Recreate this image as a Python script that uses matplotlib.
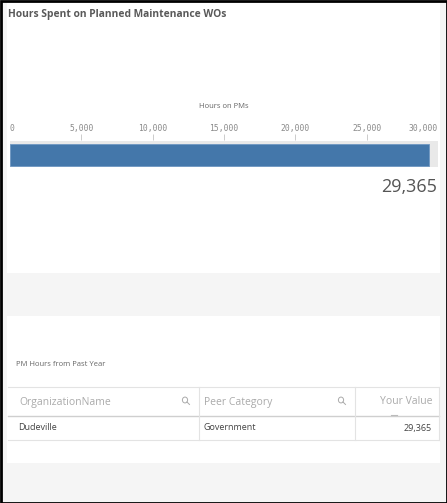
import matplotlib.pyplot as plt
from matplotlib.patches import Rectangle, Circle
from matplotlib.lines import Line2D

title = 'Hours Spent on Planned Maintenance WOs'
axis_title = 'Hours on PMs'
measure = ['Hours on PMs']
hours = [29365]
ticks = [0, 5000, 10000, 15000, 20000, 25000, 30000]

table_title = 'PM Hours from Past Year'
columns = ['OrganizationName', 'Peer Category', 'Your Value']
org_names = ['Dudeville']
peer_cats = ['Government']
your_values = [29365]

W, H = 447, 503
fig = plt.figure(figsize=(W / 100, H / 100), dpi=100)
fig.patch.set_facecolor('#f5f5f5')


def fx(px):
    return px / W


def fy(py):
    return 1 - py / H


def panel(x0, y0, x1, y1, color='white'):
    fig.patches.append(Rectangle((fx(x0), fy(y1)), fx(x1) - fx(x0), fy(y0) - fy(y1),
                                 transform=fig.transFigure, facecolor=color,
                                 edgecolor='none', zorder=-10))


def hline(x0, x1, y, color='#e3e3e3', lw=0.8):
    fig.lines.append(Line2D([fx(x0), fx(x1)], [fy(y), fy(y)], transform=fig.transFigure,
                            color=color, lw=lw))


def vline(x, y0, y1, color='#e3e3e3', lw=0.8):
    fig.lines.append(Line2D([fx(x), fx(x)], [fy(y0), fy(y1)], transform=fig.transFigure,
                            color=color, lw=lw))


def search_icon(x, y):
    fig.patches.append(Circle((fx(x), fy(y)), 2.6 / W, transform=fig.transFigure,
                              facecolor='none', edgecolor='#aaaaaa', lw=0.7))
    fig.lines.append(Line2D([fx(x + 2), fx(x + 4.5)], [fy(y + 2), fy(y + 4.5)],
                            transform=fig.transFigure, color='#aaaaaa', lw=0.7))


# white panels
panel(7, 2, 440, 273)
panel(7, 316, 440, 463)

fig.text(fx(8), fy(15), title, fontsize=7.4, fontweight='bold', color='#595959',
         family='Open Sans', va='center', ha='left')

# bar chart (grey track slightly taller than the bar)
ax = fig.add_axes([fx(10), fy(167), fx(438) - fx(10), fy(141) - fy(167)])
ax.set_facecolor('#e9e9e9')
ax.barh(measure, hours, height=0.86, color='#4477aa', edgecolor='#6f98c2', lw=0.6)
ax.set_xlim(ticks[0], ticks[-1])
ax.set_ylim(-0.45, 0.55)
ax.set_yticks([])
for s in ax.spines.values():
    s.set_visible(False)
ax.spines['top'].set_position(('outward', 1))
ax.xaxis.tick_top()
ax.set_xticks(ticks)
ax.set_xticklabels([f'{t:,}' for t in ticks], family='DejaVu Sans Mono', fontsize=5.8,
                   color='#8a8a8a')
ax.tick_params(axis='x', length=4.5, width=0.7, color='#cccccc', pad=0.5)
lbls = ax.get_xticklabels()
lbls[0].set_ha('left')
lbls[-1].set_ha('right')
mt = ax.xaxis.get_major_ticks()
mt[0].tick2line.set_visible(False)
mt[-1].tick2line.set_visible(False)

fig.text(fx(224), fy(107), axis_title, fontsize=5.5, color='#666666', family='Open Sans',
         ha='center', va='center')
fig.text(fx(437), fy(187), f'{hours[0]:,}', fontsize=13, color='#555555', family='Open Sans',
         ha='right', va='center')

# table
fig.text(fx(16), fy(365), table_title, fontsize=5.5, color='#666666', family='Open Sans',
         ha='left', va='center')
col_x = [8, 199, 355, 439]
hline(8, 439, 387)
hline(8, 439, 416, color='#cfcfcf', lw=1.0)
hline(8, 439, 440)
for x in col_x[1:3]:
    vline(x, 387, 440)
vline(439, 387, 440)
hdr_y, row_y = 402, 428
fig.text(fx(19), fy(hdr_y), columns[0], fontsize=7.5, color='#aaaaaa', family='Open Sans',
         ha='left', va='center')
fig.text(fx(204), fy(hdr_y), columns[1], fontsize=7.5, color='#aaaaaa', family='Open Sans',
         ha='left', va='center')
fig.text(fx(432), fy(hdr_y), columns[2], fontsize=7.5, color='#aaaaaa', family='Open Sans',
         ha='right', va='center')
search_icon(185, 400)
search_icon(341, 400)
hline(391, 397, 415, color='#bbbbbb', lw=0.8)
for org, cat, val in zip(org_names, peer_cats, your_values):
    fig.text(fx(18), fy(row_y), org, fontsize=6.5, color='#444444', family='Open Sans',
             ha='left', va='center')
    fig.text(fx(203), fy(row_y), cat, fontsize=6.5, color='#444444', family='Open Sans',
             ha='left', va='center')
    fig.text(fx(432), fy(row_y), f'{val:,}', fontsize=6.5, color='#444444', family='Open Sans',
             ha='right', va='center')

# outer frame
fig.patches.append(Rectangle((0.5 / W, 0.5 / H), 1 - 1 / W, 1 - 1 / H, transform=fig.transFigure,
                             facecolor='none', edgecolor='black', lw=2.0, zorder=10))

fig.savefig('out.png', dpi=100, facecolor=fig.get_facecolor())
